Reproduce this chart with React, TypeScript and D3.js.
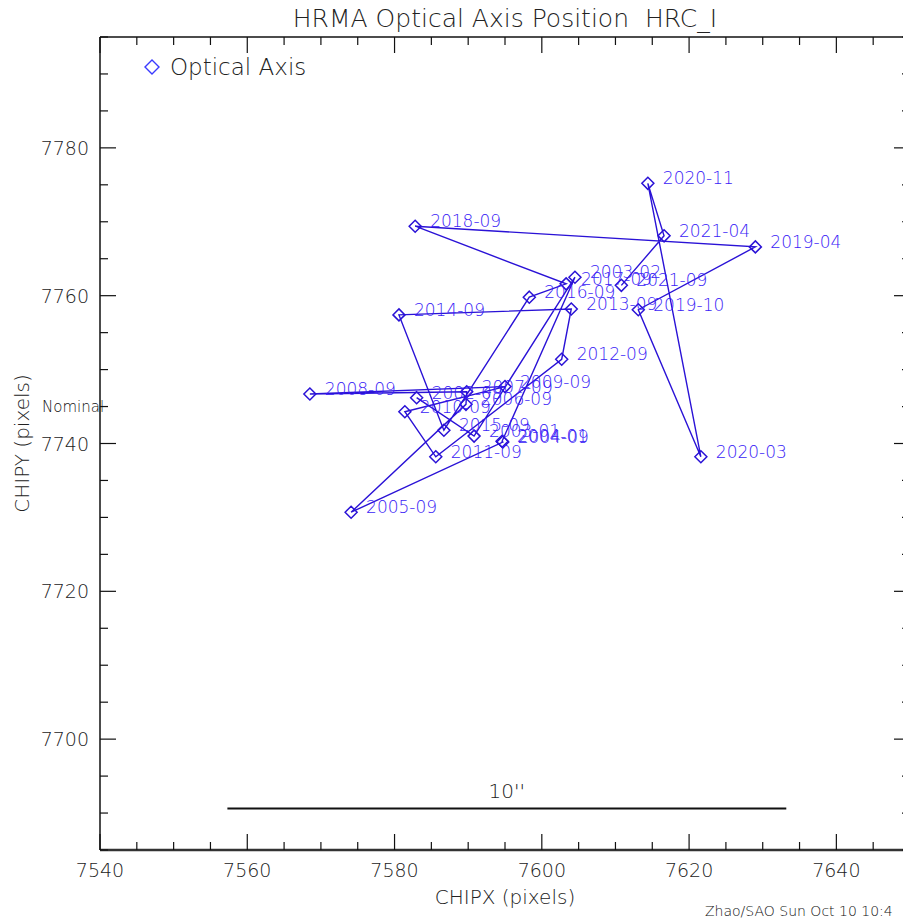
import React from "react";
import * as d3 from "d3";

const labels = [
  "2002-09", "2003-01", "2003-02", "2004-01", "2004-09", "2005-09", "2006-09",
  "2007-09", "2008-09", "2009-09", "2010-09", "2011-09", "2012-09", "2013-09",
  "2014-09", "2015-09", "2016-09", "2017-09", "2018-09", "2019-04", "2019-10",
  "2020-03", "2020-11", "2021-04", "2021-09",
];
const chipx = [
  7583.0, 7590.8, 7604.5, 7594.6, 7594.7, 7574.1, 7589.7,
  7589.8, 7568.5, 7595.0, 7581.4, 7585.6, 7602.7, 7604.0,
  7580.6, 7586.7, 7598.3, 7603.3, 7582.8, 7629.0, 7613.1,
  7621.6, 7614.4, 7616.6, 7610.8,
];
const chipy = [
  7746.2, 7741.0, 7762.5, 7740.3, 7740.2, 7730.7, 7745.3,
  7747.0, 7746.7, 7747.7, 7744.3, 7738.2, 7751.4, 7758.2,
  7757.4, 7741.8, 7759.8, 7761.6, 7769.4, 7766.6, 7758.1,
  7738.2, 7775.2, 7768.1, 7761.4,
];
const xMajorTicks = [7540, 7560, 7580, 7600, 7620, 7640];
const yMajorTicks = [7700, 7720, 7740, 7760, 7780];
const xDomain = [7540, 7650];
const yDomain = [7685, 7795];
const scaleBarStart = 7557.3;
const scaleBarLength = 75.9; // 10 arcsec in HRC-I pixels
const scaleBarY = 7690.6;
const nominalY = 7745;

const W = 903;
const H = 920;
const M = { left: 100, right: 910, top: 37, bottom: 850 };
const FONT = "'DejaVu Sans', sans-serif";
const LINE = "#2a12d6";
const TEXT = "#3a1cf6";

export default function App() {
  const x = d3.scaleLinear().domain(xDomain).range([M.left, M.right]);
  const y = d3.scaleLinear().domain(yDomain).range([M.bottom, M.top]);
  const pts = labels.map((l, i) => ({ l, x: chipx[i], y: chipy[i] }));
  const line = d3
    .line<{ x: number; y: number }>()
    .x((d) => x(d.x))
    .y((d) => y(d.y));
  const xMinor = d3.range(xDomain[0], xDomain[1] + 0.01, 5);
  const yMinor = d3.range(yDomain[0], yDomain[1] + 0.01, 5);
  const diamond = (cx: number, cy: number, r: number) =>
    `M${cx},${cy - r}L${cx + r},${cy}L${cx},${cy + r}L${cx - r},${cy}Z`;
  const isMajorX = (v: number) => xMajorTicks.includes(v);
  const isMajorY = (v: number) => yMajorTicks.includes(v);

  return (
    <svg
      width={W}
      height={H}
      style={{ position: "absolute", left: 0, top: 0, background: "#fff" }}
      fontFamily={FONT}
    >
      <rect x={0} y={0} width={W} height={H} fill="#fff" />
      {/* Title */}
      <text x={505} y={27} fontSize={25} textAnchor="middle" fill="#222" fontWeight={200}>
        HRMA Optical Axis Position{"\u00a0\u00a0"}HRC_I
      </text>
      {/* Frame */}
      <g stroke="#111" fill="none">
        <line x1={M.left} x2={M.right} y1={M.top} y2={M.top} strokeWidth={1.5} />
        <line x1={M.left} x2={M.right} y1={M.bottom} y2={M.bottom} strokeWidth={2.5} stroke="#333" />
        <line x1={M.left} x2={M.left} y1={M.top} y2={M.bottom} strokeWidth={1.5} />
        <line x1={M.right} x2={M.right} y1={M.top} y2={M.bottom} strokeWidth={1.5} />
        {xMinor.map((v) => {
          const len = isMajorX(v) ? 16 : 8;
          return (
            <g key={"xt" + v}>
              <line x1={x(v)} x2={x(v)} y1={M.bottom} y2={M.bottom - len} strokeWidth={1.2} />
              <line x1={x(v)} x2={x(v)} y1={M.top} y2={M.top + len} strokeWidth={1.2} />
            </g>
          );
        })}
        {yMinor.map((v) => {
          const len = isMajorY(v) ? 16 : 8;
          return (
            <g key={"yt" + v}>
              <line x1={M.left} x2={M.left + len} y1={y(v)} y2={y(v)} strokeWidth={1.2} />
              <line x1={M.right} x2={M.right - len} y1={y(v)} y2={y(v)} strokeWidth={1.2} />
            </g>
          );
        })}
      </g>
      {/* Tick labels */}
      {xMajorTicks.map((v) => (
        <text key={"xl" + v} x={x(v)} y={877} fontSize={19} textAnchor="middle" fill="#222" fontWeight={200}>
          {v}
        </text>
      ))}
      {yMajorTicks.map((v) => (
        <text key={"yl" + v} x={89} y={y(v) + 7} fontSize={19} textAnchor="end" fill="#222" fontWeight={200}>
          {v}
        </text>
      ))}
      {/* Axis titles */}
      <text x={505} y={904} fontSize={20} textAnchor="middle" fill="#222" fontWeight={200}>
        CHIPX (pixels)
      </text>
      <text
        transform={`translate(29, ${(M.top + M.bottom) / 2}) rotate(-90)`}
        fontSize={20}
        textAnchor="middle"
        fill="#222"
        fontWeight={200}
      >
        CHIPY (pixels)
      </text>
      <text x={42} y={y(nominalY) + 5} fontSize={15} fill="#111" fontWeight={200}>
        Nominal
      </text>
      {/* Scale bar */}
      <line
        x1={x(scaleBarStart)}
        x2={x(scaleBarStart + scaleBarLength)}
        y1={y(scaleBarY)}
        y2={y(scaleBarY)}
        stroke="#111"
        strokeWidth={2}
      />
      <text
        x={x(scaleBarStart + scaleBarLength / 2)}
        y={y(scaleBarY) - 11}
        fontSize={20}
        textAnchor="middle"
        fill="#222"
        fontWeight={200}
      >
        10''
      </text>
      {/* Data */}
      <path d={line(pts) || ""} fill="none" stroke={LINE} strokeWidth={1.4} />
      {pts.map((p) => (
        <path key={"d" + p.l} d={diamond(x(p.x), y(p.y), 6)} fill="none" stroke={LINE} strokeWidth={1.5} />
      ))}
      {pts.map((p) => (
        <text key={"t" + p.l} x={x(p.x) + 15} y={y(p.y) + 1} fontSize={17} fill={TEXT} fontWeight={200}>
          {p.l}
        </text>
      ))}
      {/* Legend */}
      <path d={diamond(152, 67, 7)} fill="none" stroke="#3a3aff" strokeWidth={1.4} />
      <text x={170} y={75} fontSize={23} fill="#222" fontWeight={200}>
        Optical Axis
      </text>
      {/* Footer */}
      <text x={705} y={916} fontSize={14} fill="#111" fontWeight={200}>
        Zhao/SAO Sun Oct 10 10:4
      </text>
    </svg>
  );
}
